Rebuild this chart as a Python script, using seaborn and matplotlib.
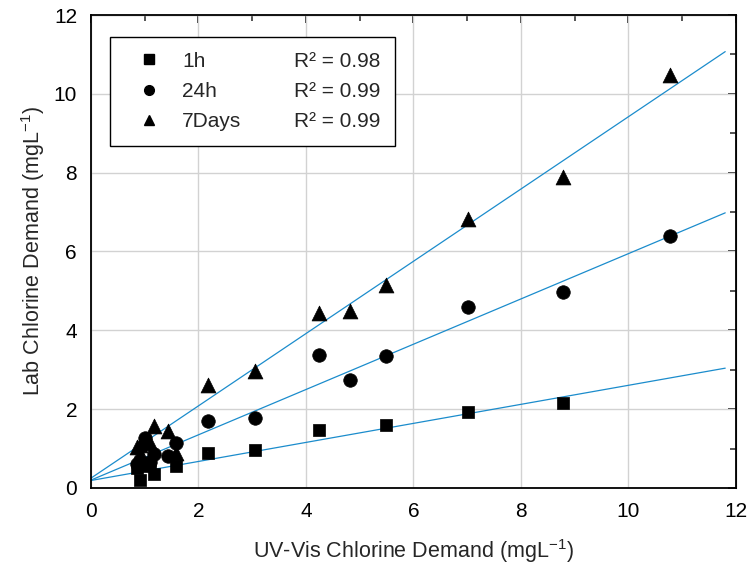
import numpy as np
import pandas as pd
import matplotlib
matplotlib.use("Agg")
import matplotlib.pyplot as plt
from matplotlib.lines import Line2D
from matplotlib.ticker import MultipleLocator
import seaborn as sns

# UV-Vis demand (x) and lab demand (y) for each contact time
x_1h = [0.85, 0.92, 1.00, 1.10, 1.18, 1.59, 2.17, 3.05, 4.24, 5.49, 7.02, 8.79]
y_1h = [0.50, 0.20, 0.55, 0.62, 0.35, 0.56, 0.90, 0.97, 1.47, 1.60, 1.92, 2.15]

x_24h = [0.85, 0.92, 1.00, 1.10, 1.18, 1.43, 1.59, 2.17, 3.05, 4.24, 4.81, 5.49, 7.02, 8.79, 10.78]
y_24h = [0.60, 0.72, 1.27, 0.66, 0.85, 0.80, 1.13, 1.70, 1.78, 3.38, 2.73, 3.35, 4.60, 4.97, 6.40]

x_7d = [0.85, 0.92, 1.00, 1.10, 1.18, 1.43, 1.59, 2.17, 3.05, 4.24, 4.81, 5.49, 7.02, 8.79, 10.78]
y_7d = [1.05, 1.10, 1.20, 1.15, 1.58, 1.45, 0.88, 2.60, 2.97, 4.43, 4.50, 5.15, 6.82, 7.90, 10.48]

series_names = ["1h", "24h", "7Days"]
r_squared = ["0.98", "0.99", "0.99"]

# linear fit parameters (slope, intercept) per series
fit_slopes = [0.2415, 0.5746, 0.917]
fit_intercepts = [0.19, 0.20, 0.25]
fit_x_range = [0.0, 11.8]

x_ticks = [0, 2, 4, 6, 8, 10, 12]
y_ticks = [0, 2, 4, 6, 8, 10, 12]

sns.set_style("white")
plt.rcParams["font.family"] = ["Liberation Sans", "DejaVu Sans"]
plt.rcParams["mathtext.fontset"] = "custom"
plt.rcParams["mathtext.rm"] = "Liberation Sans"
plt.rcParams["mathtext.it"] = "Liberation Sans"

frames = []
for name, xs, ys in zip(series_names, [x_1h, x_24h, x_7d], [y_1h, y_24h, y_7d]):
    frames.append(pd.DataFrame({"uv": xs, "lab": ys, "series": name}))
points = pd.concat(frames, ignore_index=True)

fit_frames = []
for name, m, b in zip(series_names, fit_slopes, fit_intercepts):
    xs = np.array(fit_x_range)
    fit_frames.append(pd.DataFrame({"uv": xs, "lab": m * xs + b, "series": name}))
fits = pd.concat(fit_frames, ignore_index=True)

fig = plt.figure(figsize=(7.49, 5.64), dpi=100)
ax = fig.add_axes([0.1215, 0.1348, 0.8611, 0.8386])

line_color = "#1b8ccc"
sns.lineplot(data=fits, x="uv", y="lab", units="series", estimator=None,
             color=line_color, linewidth=0.9, ax=ax, legend=False, zorder=2)

marker_map = {"1h": "s", "24h": "o", "7Days": "^"}
sizes = {"1h": 75, "24h": 95, "7Days": 115}
for name in series_names:
    sub = points[points["series"] == name]
    sns.scatterplot(data=sub, x="uv", y="lab", marker=marker_map[name],
                    s=sizes[name], color="black", edgecolor="black",
                    linewidth=0.5, ax=ax, legend=False, zorder=3)

ax.set_xlim(0, 12)
ax.set_ylim(0, 12)
ax.set_xticks(x_ticks)
ax.set_yticks(y_ticks)
ax.xaxis.set_minor_locator(MultipleLocator(1))
ax.yaxis.set_minor_locator(MultipleLocator(1))
ax.grid(True, which="major", color="#d2d2d2", linewidth=1.0, zorder=0)
ax.set_axisbelow(True)

for sp in ax.spines.values():
    sp.set_visible(True)
    sp.set_color("black")
    sp.set_linewidth(1.3)

ax.tick_params(which="major", direction="out", length=6, width=1.3,
               labelsize=15, colors="black", pad=4)
ax.tick_params(which="minor", direction="out", length=4, width=1.1)

# inward ticks along the top and right frame
top = ax.secondary_xaxis("top")
top.set_xticks(x_ticks)
top.xaxis.set_minor_locator(MultipleLocator(1))
top.tick_params(which="major", direction="in", length=6, width=1.3, labeltop=False)
top.tick_params(which="minor", direction="in", length=4, width=1.1)
right = ax.secondary_yaxis("right")
right.set_yticks(y_ticks)
right.yaxis.set_minor_locator(MultipleLocator(1))
right.tick_params(which="major", direction="in", length=6, width=1.3, labelright=False)
right.tick_params(which="minor", direction="in", length=4, width=1.1)

ax.set_xlabel("UV-Vis Chlorine Demand (mgL$^{-1}$)", fontsize=15.5, labelpad=12)
ax.set_ylabel("Lab Chlorine Demand (mgL$^{-1}$)", fontsize=15.5, labelpad=5)

handles = []
labels = []
for name in series_names:
    handles.append(Line2D([], [], linestyle="none", marker=marker_map[name],
                          color="black", markersize=7))
    labels.append(name)
for r2 in r_squared:
    handles.append(Line2D([], [], linestyle="none", marker=None))
    labels.append("R\u00b2 = " + r2)

leg = ax.legend(handles, labels, ncol=2, loc="upper left",
                bbox_to_anchor=(0.0295, 0.9535), borderaxespad=0,
                fontsize=15, frameon=True,
                fancybox=False, edgecolor="black", framealpha=1,
                handlelength=2.3, handletextpad=0.45, columnspacing=-0.2,
                labelspacing=0.55, borderpad=0.7)
leg.get_frame().set_linewidth(1.0)

fig.savefig("out.png", dpi=100)
